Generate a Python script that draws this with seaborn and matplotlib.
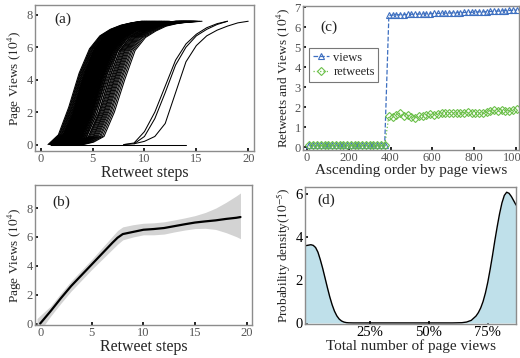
import numpy as np
import pandas as pd
import matplotlib
matplotlib.use("Agg")
import matplotlib.pyplot as plt
import seaborn as sns

# ---------------- data ----------------
# (a) cascade curves: rise profiles (page views, 10^4) at successive retweet steps
a_profile_early = [0, 0.6, 2.3, 4.4, 5.9, 6.7, 7.1, 7.35, 7.5, 7.6]
a_profile_long = [0, 0.4, 1.8, 4.0, 5.7, 6.6, 7.0, 7.2, 7.33, 7.42, 7.5, 7.55, 7.6]
a_profile_late = [0, 0.15, 0.5, 2.0, 4.0, 5.8, 6.6, 7.0, 7.3, 7.45, 7.55, 7.6]
a_starts_early = [0.70, 0.78, 0.83, 0.90, 0.97, 1.02, 1.08, 1.15, 1.20, 1.26, 1.33, 1.38,
                  1.45, 1.50, 1.57, 1.63, 1.70, 1.76, 1.82, 1.88, 1.95, 2.00, 2.07, 2.13,
                  2.20, 2.26, 2.33, 2.40, 2.46, 2.52, 2.60, 2.66, 2.72, 2.80, 2.88, 2.95,
                  3.02, 3.10, 3.18, 3.26, 3.35, 3.45]
a_starts_long = [1.05, 1.12, 1.18, 1.24, 1.30, 1.36, 1.42, 1.48, 1.55, 1.60, 1.66, 1.72,
                 1.78, 1.84, 1.90, 1.96, 2.02, 2.08, 2.15, 2.22, 2.28, 2.34, 2.40, 2.46,
                 2.52, 2.58, 2.65, 2.72, 2.78, 2.85, 2.92, 3.05, 3.20, 3.35, 3.55]
a_starts_late = [2.45, 2.60, 2.72, 2.80, 2.90, 3.00, 3.08, 3.15, 3.25, 3.35, 3.45, 3.55,
                 3.68, 3.80, 3.95, 4.10]
a_far1_x = [8, 9, 10, 11, 12, 13, 14, 15, 16, 17, 18]
a_far1_y = [0, 0.1, 0.8, 2.0, 3.6, 5.2, 6.2, 6.8, 7.2, 7.45, 7.6]
a_far2_x = [8, 9, 10, 11, 12, 13, 14, 15, 16, 17, 18]
a_far2_y = [0, 0.05, 0.5, 1.6, 3.2, 4.9, 6.0, 6.7, 7.1, 7.4, 7.6]
a_far3_x = [9, 10, 11, 12, 13, 14, 15, 16, 17, 18, 19, 20]
a_far3_y = [0.05, 0.2, 0.5, 1.3, 3.2, 5.1, 6.1, 6.7, 7.05, 7.3, 7.5, 7.6]
a_flat_x = [1, 14]
a_flat_y = [0, 0]

# (b) mean page views per retweet step with confidence band
b_steps = [0, 1, 2, 3, 4, 5, 6, 7, 7.5, 8, 9, 10, 11, 12, 13, 14, 15, 16, 17, 18, 19, 19.4]
b_mean = [0.0, 0.85, 1.75, 2.6, 3.35, 4.1, 4.85, 5.6, 5.95, 6.2, 6.35, 6.5, 6.55, 6.62,
          6.75, 6.88, 7.0, 7.08, 7.15, 7.25, 7.33, 7.38]
b_band_x = [-0.3, 0, 1, 2, 3, 4, 5, 6, 7, 7.5, 8, 9, 10, 11, 12, 13, 14, 15, 16, 17, 18, 19, 19.4]
b_low = [-0.7, -0.5, 0.5, 1.4, 2.25, 3.0, 3.75, 4.45, 5.15, 5.5, 5.8, 6.0, 6.15, 6.15, 6.2,
         6.35, 6.48, 6.58, 6.6, 6.52, 6.3, 6.02, 5.88]
b_high = [0.35, 0.55, 1.2, 2.1, 2.95, 3.7, 4.45, 5.25, 6.05, 6.45, 6.7, 6.85, 6.95, 6.98, 7.05,
          7.18, 7.32, 7.48, 7.7, 8.0, 8.4, 8.85, 9.05]

# (c) retweets and views in ascending order of page views
c_rank = [12, 30, 48, 66, 84, 102, 120, 138, 156, 174, 192, 210, 228, 246, 264, 282, 300,
          318, 336, 354, 372,
          392, 410, 428, 446, 464, 482, 500, 518, 536, 554, 572, 590, 608, 626, 644, 662,
          680, 698, 716, 734, 752, 770, 788, 806, 824, 842, 860, 878, 896, 914, 932, 950,
          968, 986, 1004]
c_views = [0.1] * 21 + [6.58, 6.6, 6.61, 6.62, 6.62, 6.63, 6.64, 6.64, 6.65, 6.66, 6.66,
                        6.67, 6.68, 6.68, 6.69, 6.7, 6.7, 6.71, 6.72, 6.72, 6.73, 6.74,
                        6.74, 6.75, 6.76, 6.76, 6.77, 6.78, 6.79, 6.8, 6.81, 6.82, 6.83,
                        6.84, 6.85]
c_retweets = [0.08] * 21 + [1.55, 1.5, 1.62, 1.7, 1.55, 1.6, 1.5, 1.45, 1.55, 1.55, 1.6,
                            1.65, 1.62, 1.65, 1.7, 1.68, 1.7, 1.72, 1.68, 1.7, 1.72, 1.74,
                            1.7, 1.72, 1.7, 1.68, 1.75, 1.82, 1.85, 1.8, 1.85, 1.82, 1.8,
                            1.85, 1.88]

# (d) probability density of total page views (percent of max)
d_x = [-2.5, 0, 1, 2, 3, 4, 5, 6, 7, 8, 9, 10, 11, 12, 13, 14, 15, 16, 18, 20, 30, 40, 50,
       60, 64, 66, 68, 70, 71, 72, 73, 74, 75, 76, 77, 78, 79, 80, 81, 82, 83, 84, 85, 86, 87]
d_density = [3.6, 3.65, 3.62, 3.52, 3.3, 2.95, 2.55, 2.1, 1.65, 1.22, 0.85, 0.55, 0.33,
             0.18, 0.09, 0.04, 0.015, 0.005, 0, 0, 0, 0, 0, 0, 0.01, 0.04, 0.12, 0.32,
             0.48, 0.7, 1.0, 1.4, 1.9, 2.5, 3.15, 3.85, 4.5, 5.1, 5.6, 5.95, 6.1, 6.05,
             5.9, 5.7, 5.5]
d_ticks = [25, 50, 75]
d_ticklabels = ["25%", "50%", "75%"]

# ---------------- style ----------------
sns.set_style("ticks")
plt.rcParams["font.family"] = ["Liberation Serif", "DejaVu Serif"]
plt.rcParams["mathtext.fontset"] = "stix"

SPINE = "#8c8c8c"
TICKC = "#555555"

fig = plt.figure(figsize=(5.2, 3.58), dpi=100)
ax_a = fig.add_axes([0.0673, 0.578, 0.421, 0.408])
ax_c = fig.add_axes([0.5827, 0.581, 0.415, 0.402])
ax_b = fig.add_axes([0.0673, 0.0922, 0.417, 0.391])
ax_d = fig.add_axes([0.5865, 0.095, 0.406, 0.383])


def style_axes(ax, labcolor=TICKC, labsize=9):
    for s in ax.spines.values():
        s.set_visible(True)
        s.set_color(SPINE)
        s.set_linewidth(1.0)
    ax.tick_params(direction="in", length=2.5, width=1.2, color="black",
                   labelsize=labsize, labelcolor=labcolor, pad=1.5)


# ---- (a) ----
rows = []
cid = 0
for prof, starts in ((a_profile_early, a_starts_early), (a_profile_long, a_starts_long),
                     (a_profile_late, a_starts_late)):
    for s in starts:
        xs = [s + k for k in range(len(prof))]
        ys = list(prof)
        if s > 1:
            xs = [1] + xs
            ys = [0] + ys
        for x, y in zip(xs, ys):
            rows.append((cid, x, y))
        cid += 1
for xs, ys in ((a_far1_x, a_far1_y), (a_far2_x, a_far2_y), (a_far3_x, a_far3_y),
               (a_flat_x, a_flat_y)):
    for x, y in zip(xs, ys):
        rows.append((cid, x, y))
    cid += 1
df_a = pd.DataFrame(rows, columns=["curve", "step", "views"])
sns.lineplot(data=df_a, x="step", y="views", units="curve", estimator=None,
             color="black", lw=0.75, ax=ax_a, sort=True)
ax_a.set_xlim(-0.55, 20.55)
ax_a.set_ylim(-0.4, 8.6)
ax_a.set_xticks([0, 5, 10, 15, 20])
ax_a.set_yticks([0, 2, 4, 6, 8])
ax_a.set_xlabel("Retweet steps", fontsize=11.5, labelpad=0)
ax_a.set_ylabel(r"Page Views ($10^4$)", fontsize=9.5, labelpad=2)
ax_a.text(0.09, 0.88, "(a)", transform=ax_a.transAxes, fontsize=11, color="#222222")
style_axes(ax_a)

# ---- (b) ----
ax_b.fill_between(b_band_x, b_low, b_high, color="#d3d3d3", lw=0)
sns.lineplot(x=b_steps, y=b_mean, color="black", lw=1.6, ax=ax_b)
ax_b.set_xlim(-0.5, 20.5)
ax_b.set_ylim(-0.1, 9.6)
ax_b.set_xticks([0, 5, 10, 15, 20])
ax_b.set_yticks([0, 2, 4, 6, 8])
ax_b.set_xlabel("Retweet steps", fontsize=11.5, labelpad=0)
ax_b.set_ylabel(r"Page Views ($10^4$)", fontsize=9.5, labelpad=2)
ax_b.text(0.08, 0.85, "(b)", transform=ax_b.transAxes, fontsize=11, color="#222222")
style_axes(ax_b)

# ---- (c) ----
df_c = pd.DataFrame({"rank": c_rank, "views": c_views, "retweets": c_retweets})
sns.lineplot(data=df_c, x="rank", y="views", color="#3d6fc0", lw=0.9, ls="--",
             marker="^", markersize=4.5, markerfacecolor="none",
             markeredgecolor="#3d6fc0", markeredgewidth=0.8, ax=ax_c, label="views")
sns.lineplot(data=df_c, x="rank", y="retweets", color="#6cc04a", lw=0.9, ls=":",
             marker="D", markersize=3.8, markerfacecolor="none",
             markeredgecolor="#6cc04a", markeredgewidth=0.8, ax=ax_c, label="retweets")
ax_c.set_xlim(-19, 1014)
ax_c.set_ylim(-0.15, 7.05)
ax_c.set_xticks([0, 200, 400, 600, 800, 1000])
ax_c.set_yticks([0, 1, 2, 3, 4, 5, 6, 7])
ax_c.set_xlabel("Ascending order by page views", fontsize=11, labelpad=0)
ax_c.set_ylabel(r"Retweets and Views ($10^4$)", fontsize=9.5, labelpad=2)
ax_c.text(0.08, 0.83, "(c)", transform=ax_c.transAxes, fontsize=11, color="#222222")
leg = ax_c.legend(loc="upper left", bbox_to_anchor=(0.03, 0.71), fontsize=9,
                  frameon=True, fancybox=False, handlelength=1.3, handletextpad=0.3,
                  borderpad=0.3, labelspacing=0.2, borderaxespad=0)
leg.get_frame().set_edgecolor("#555555")
leg.get_frame().set_linewidth(0.8)
style_axes(ax_c)

# ---- (d) ----
ax_d.fill_between(d_x, 0, d_density, color="#bfe0ea", lw=0)
sns.lineplot(x=d_x, y=d_density, color="black", lw=1.0, ax=ax_d)
ax_d.set_xlim(-2.5, 87)
ax_d.set_ylim(-0.05, 6.35)
ax_d.set_xticks(d_ticks)
ax_d.set_xticklabels(d_ticklabels)
ax_d.set_yticks([0, 2, 4, 6])
ax_d.set_xlabel("Total number of page views", fontsize=11, labelpad=0)
ax_d.set_ylabel(r"Probability density($10^{-5}$)", fontsize=9.5, labelpad=2)
ax_d.text(0.06, 0.88, "(d)", transform=ax_d.transAxes, fontsize=11, color="#222222")
style_axes(ax_d, labcolor="black", labsize=10.5)

fig.savefig("out.png", dpi=100)
